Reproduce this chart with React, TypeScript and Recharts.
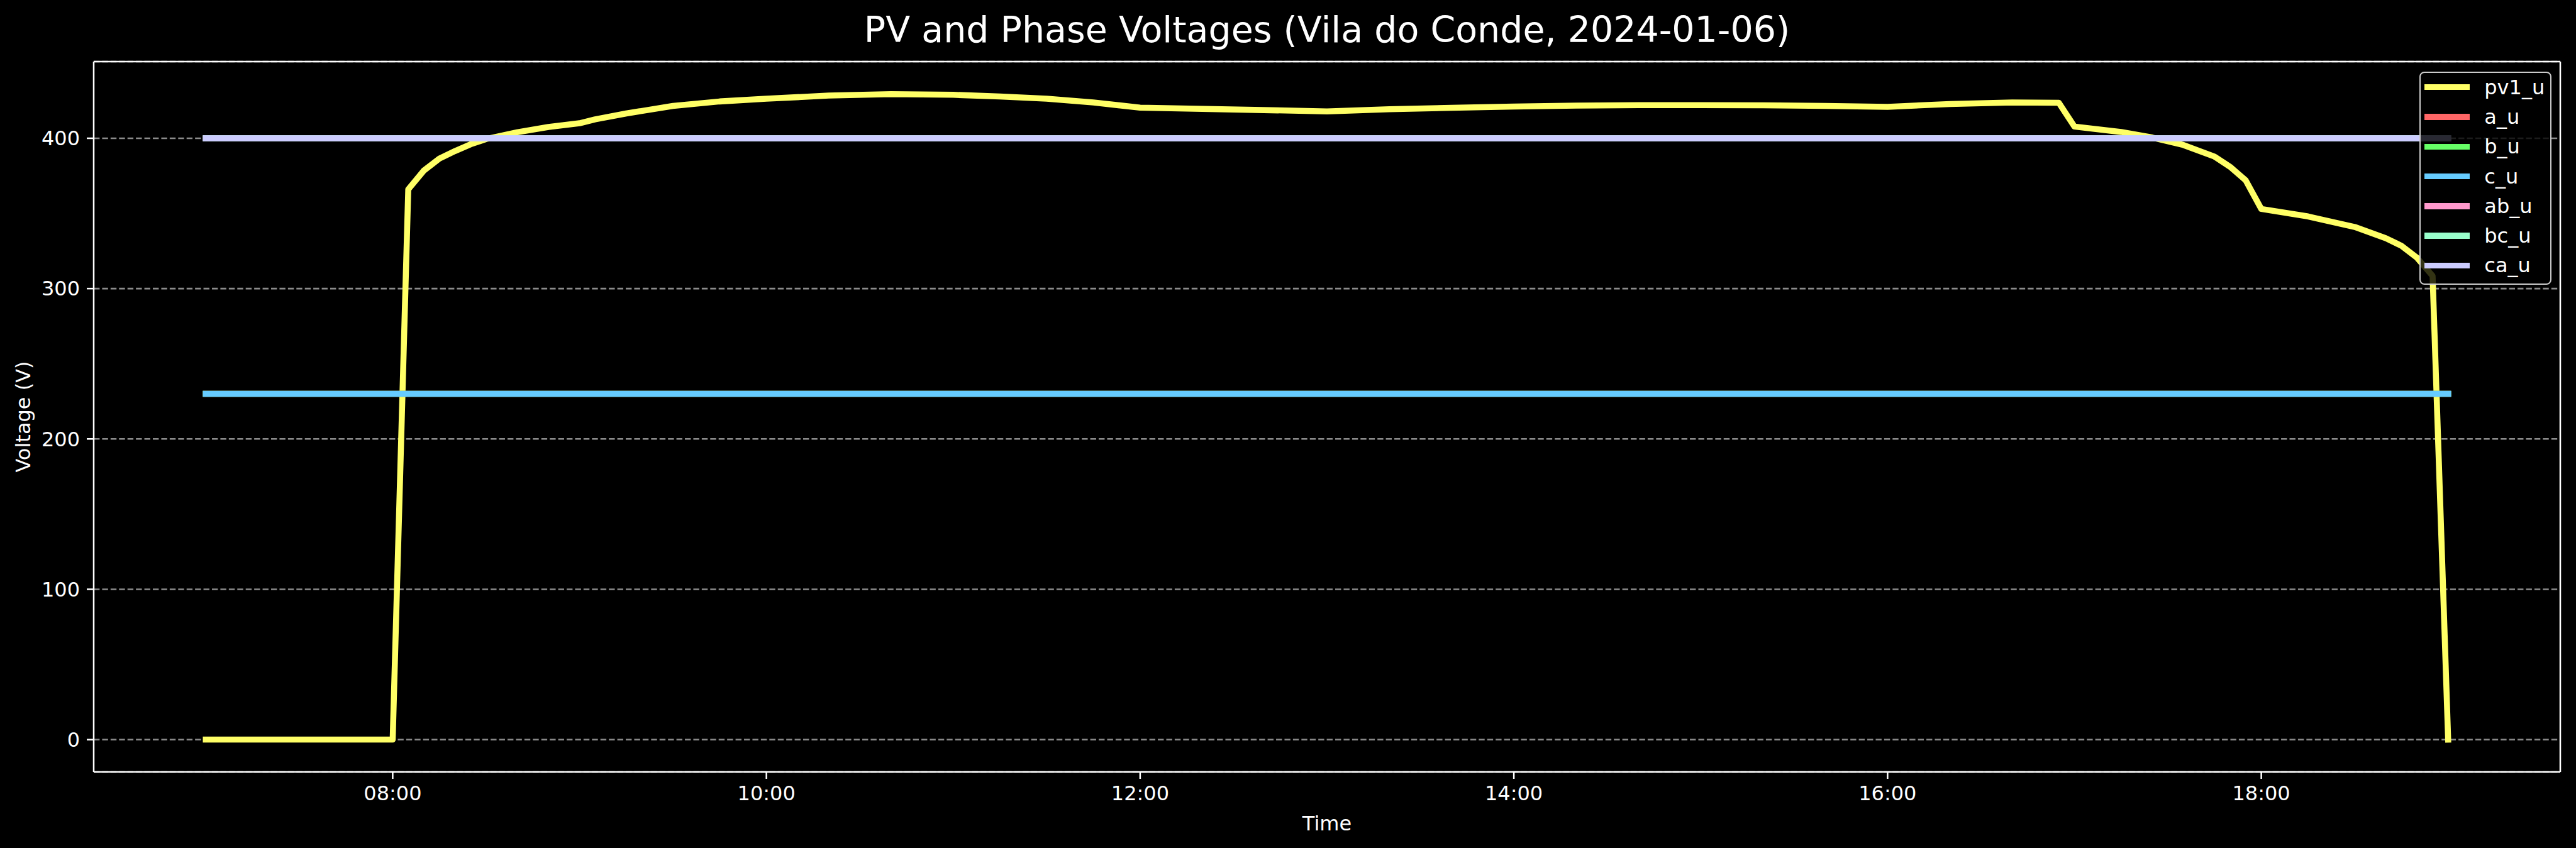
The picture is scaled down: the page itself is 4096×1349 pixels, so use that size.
import React from 'react';
import { LineChart, Line, XAxis, YAxis, CartesianGrid, Legend, ReferenceLine } from 'recharts';

// pv1_u readings (time of day, volts)
const pvTimes = [
  '07:00', '08:00', '08:05', '08:10', '08:15', '08:20', '08:25', '08:30', '08:40', '08:50',
  '09:00', '09:05', '09:15', '09:30', '09:45', '10:00', '10:20', '10:40', '11:00', '11:15',
  '11:30', '11:45', '12:00', '13:00', '13:20', '13:40', '14:00', '14:20', '14:40', '15:00',
  '15:20', '15:40', '16:00', '16:20', '16:40', '16:55', '17:00', '17:15', '17:25', '17:35',
  '17:45', '17:50', '17:55', '18:00', '18:15', '18:30', '18:40', '18:45', '18:50', '18:55',
  '19:00',
];
const pv1U = [
  0, 0, 366, 378.5, 386.5, 391.5, 396, 399.5, 404, 407.5,
  410, 412.6, 416.5, 421.5, 424.5, 426.3, 428.4, 429.4, 428.9, 427.8,
  426.3, 423.8, 420.4, 417.9, 419.3, 420.3, 421.1, 421.7, 422, 422,
  421.9, 421.5, 420.9, 422.8, 423.8, 423.6, 407.8, 404.2, 400.5, 395.5,
  387.8, 381, 372, 353, 348, 341, 333.5, 328.5, 320.5, 308.5,
  0,
];

// phase voltages (flat over the day)
const phaseTimes = ['07:00', '19:00'];
const aU = [230, 230];
const bU = [230, 230];
const cU = [230, 230];
const abU = [400, 400];
const bcU = [400, 400];
const caU = [400, 400];

const xTicks = ['08:00', '10:00', '12:00', '14:00', '16:00', '18:00'];
const yTicks = [0, 100, 200, 300, 400];

const S = 0.763;
const FONT = 'DejaVu Sans, sans-serif';

const toMin = (s: string) => {
  const [h, m] = s.split(':').map(Number);
  return h * 60 + m;
};
const fmt = (v: number) =>
  `${String(Math.floor(v / 60)).padStart(2, '0')}:${String(v % 60).padStart(2, '0')}`;

const build = (times: string[], vals: number[]) =>
  times.map((t, i) => ({ t: toMin(t), v: vals[i] }));

const series = [
  { name: 'pv1_u', color: '#ffff66', data: build(pvTimes, pv1U) },
  { name: 'a_u', color: '#ff6666', data: build(phaseTimes, aU) },
  { name: 'b_u', color: '#66ff66', data: build(phaseTimes, bU) },
  { name: 'c_u', color: '#66ccff', data: build(phaseTimes, cU) },
  { name: 'ab_u', color: '#ff99cc', data: build(phaseTimes, abU) },
  { name: 'bc_u', color: '#99ffcc', data: build(phaseTimes, bcU) },
  { name: 'ca_u', color: '#ccccff', data: build(phaseTimes, caU) },
];
const order = series.map((s) => s.name);

// matplotlib-style 5% margins around 07:00-19:00 and 0-429
const xDomain = [384, 1176];
const yDomain = [-21.5, 451];

const W = 4096;
const H = 1349;
const lw = 12.5 * S;
const axisW = 3.3 * S;

function LegendBox(props: any) {
  const items = [...(props.payload || [])].sort(
    (a: any, b: any) => order.indexOf(a.value) - order.indexOf(b.value)
  );
  return (
    <div
      style={{
        position: 'relative',
        width: 210,
        height: 339,
        boxSizing: 'border-box',
        border: `${axisW}px solid #cccccc`,
        borderRadius: 8,
        background: 'rgba(0,0,0,0.8)',
        fontFamily: FONT,
      }}
    >
      {items.map((it: any, i: number) => {
        const cy = 25.2 + i * 47.3;
        return (
          <div key={it.value}>
            <div
              style={{
                position: 'absolute',
                left: 8.4 - axisW,
                top: cy - lw / 2 - axisW,
                width: 72.5,
                height: lw,
                background: it.color,
              }}
            />
            <div
              style={{
                position: 'absolute',
                left: 103.8 - axisW,
                top: cy - 20 - axisW,
                height: 40,
                lineHeight: '40px',
                fontSize: 32,
                color: '#fff',
                whiteSpace: 'nowrap',
              }}
            >
              {it.value}
            </div>
          </div>
        );
      })}
    </div>
  );
}

export default function App() {
  return (
    <div style={{ position: 'absolute', left: 0, top: 0, width: W, height: H, background: '#000', overflow: 'hidden' }}>
      <svg style={{ position: 'absolute', left: 0, top: 0 }} width={W} height={98}>
        <text x={2110} y={67} textAnchor="middle" fill="#fff" fontSize={57} fontFamily={FONT}>
          PV and Phase Voltages (Vila do Conde, 2024-01-06)
        </text>
      </svg>
      <LineChart width={W} height={H} margin={{ top: 98, right: 25, left: 0, bottom: 0 }}>
        <CartesianGrid vertical={false} stroke="#8c8c8c" strokeWidth={axisW} strokeDasharray={`${12.3 * S} ${5.3 * S}`} />
        <XAxis
          dataKey="t"
          type="number"
          domain={xDomain}
          allowDataOverflow
          ticks={xTicks.map(toMin)}
          tickFormatter={fmt}
          height={121}
          tickSize={11}
          tickMargin={11}
          axisLine={{ stroke: '#fff', strokeWidth: axisW }}
          tickLine={{ stroke: '#fff', strokeWidth: axisW }}
          tick={{ fill: '#fff', fontSize: 32, fontFamily: FONT }}
          label={{ value: 'Time', position: 'insideBottom', offset: 28, fill: '#fff', fontSize: 32, fontFamily: FONT }}
        />
        <YAxis
          type="number"
          domain={yDomain}
          allowDataOverflow
          ticks={yTicks}
          width={149}
          tickSize={11}
          tickMargin={11}
          axisLine={{ stroke: '#fff', strokeWidth: axisW }}
          tickLine={{ stroke: '#fff', strokeWidth: axisW }}
          tick={{ fill: '#fff', fontSize: 32, fontFamily: FONT }}
          label={{
            content: () => (
              <text
                x={37}
                y={663}
                transform="rotate(-90 37 663)"
                textAnchor="middle"
                dominantBaseline="central"
                fill="#fff"
                fontSize={32}
                fontFamily={FONT}
              >
                Voltage (V)
              </text>
            ),
          }}
        />
        <ReferenceLine y={yDomain[1]} stroke="#fff" strokeWidth={axisW} />
        <ReferenceLine x={xDomain[1]} stroke="#fff" strokeWidth={axisW} />
        {series.map((s) => (
          <Line
            key={s.name}
            data={s.data}
            dataKey="v"
            name={s.name}
            type="linear"
            stroke={s.color}
            strokeWidth={lw}
            strokeLinejoin="round"
            strokeLinecap="square"
            dot={false}
            activeDot={false}
            isAnimationActive={false}
          />
        ))}
        <Legend
          layout="vertical"
          align="center"
          verticalAlign="middle"
          content={LegendBox}
          wrapperStyle={{ position: 'absolute', left: 3847, top: 114, width: 210, height: 339 }}
        />
      </LineChart>
    </div>
  );
}
